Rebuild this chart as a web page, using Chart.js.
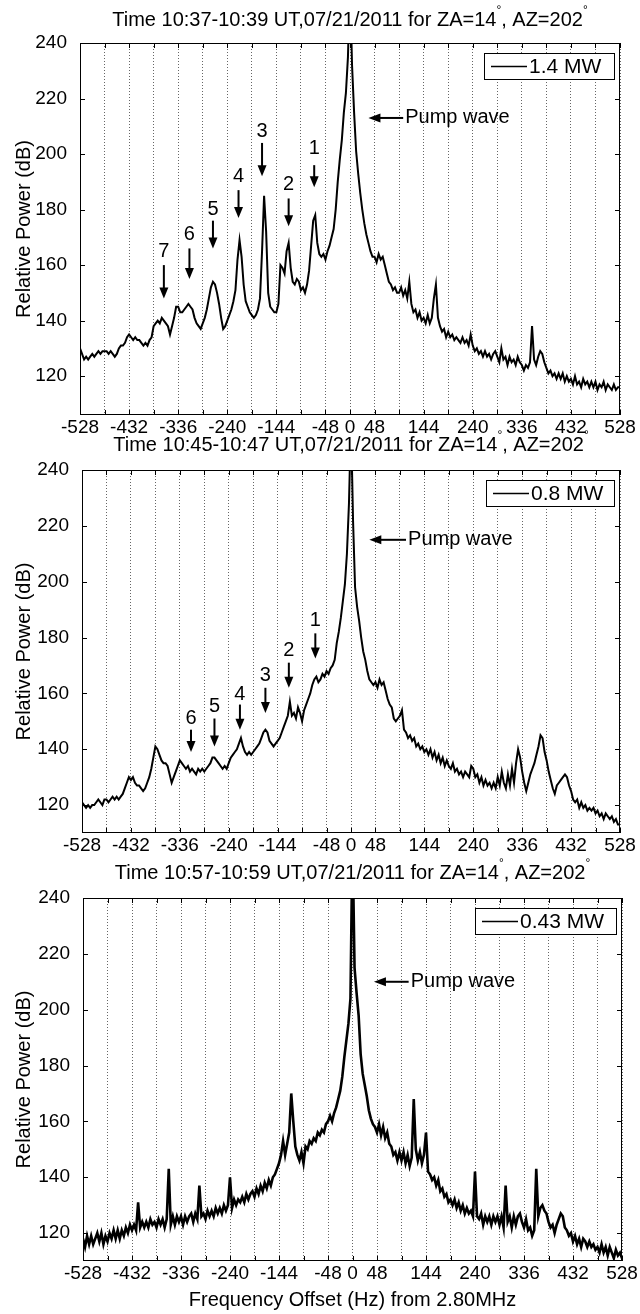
<!DOCTYPE html>
<html>
<head>
<meta charset="utf-8">
<script src="https://cdn.jsdelivr.net/npm/chart.js@4.4.0/dist/chart.umd.min.js"></script>
<style>
  body { margin: 0; background: #fff; }
  #wrap { position: relative; width: 640px; height: 1314px; overflow: hidden; }
  canvas { position: absolute; left: 0; }
</style>
</head>
<body>
<div id="wrap">
  <canvas id="c1"></canvas>
  <canvas id="c2"></canvas>
  <canvas id="c3"></canvas>
</div>
<script>
// spectrum sampled every 4 Hz from -528 Hz to +528 Hz (offset from 2.80 MHz)
const fStart = -528, fStep = 4;
const xGridTicks = [-528,-480,-432,-384,-336,-288,-240,-192,-144,-96,-48,0,48,96,144,192,240,288,336,384,432,480,528];
const xTickLabels = [-528,-432,-336,-240,-144,-48,0,48,144,240,336,432,528];
const yTicks = [120,140,160,180,200,220,240];

// 1.4 MW, 10:37-10:39 UT
const power14 = [
  130,128,126,127,126,127,128,127,128,129,128,129,
  129,129,128,129,128,127,128,130,131,131,132,134,
  135,134,133,134,133,133,132,131,132,131,133,134,
  138,139,140,139,141,140,139,138,135,138,141,145,
  145,143,143,144,145,146,145,144,141,139,138,137,
  139,141,144,148,152,154,153,150,146,141,137,138,
  140,142,144,147,151,162,169,163,153,147,145,143,
  142,141,142,144,148,165,185,172,150,145,144,143,
  143,146,160,159,157,165,168,159,154,153,155,154,
  151,152,150,153,158,167,176,178,168,164,163,164,
  162,165,167,170,173,180,190,198,205,215,222,235,
  262,232,215,201,193,186,180,175,171,168,165,163,
  163,161,164,162,163,160,157,154,153,151,152,150,
  150,152,149,151,148,154,146,143,144,141,143,140,
  141,139,142,139,141,148,153,141,138,136,137,134,
  136,134,135,133,134,133,132,134,132,133,131,135,
  131,129,130,128,129,127,129,127,128,126,128,129,
  127,125,130,126,127,124,127,125,126,124,127,125,
  124,122,124,123,125,138,126,124,127,129,128,125,
  123,121,122,120,121,119,121,119,121,118,120,118,
  119,117,120,117,118,116,119,117,118,116,118,116,
  118,115,117,116,118,115,117,116,115,117,115,116,
  116
];

// 0.8 MW, 10:45-10:47 UT
const power08 = [
  121,120,119,120,119,120,120,121,122,121,120,122,
  122,121,122,123,122,123,122,123,124,126,128,130,
  129,130,128,127,127,126,125,126,128,130,133,137,
  141,140,138,136,135,135,134,131,128,130,132,134,
  136,135,134,133,134,132,133,132,131,133,132,133,
  132,133,134,135,137,137,136,135,134,133,134,133,
  135,137,138,139,140,142,144,141,139,138,139,138,
  139,140,141,142,144,146,147,146,143,142,141,142,
  143,144,146,148,150,152,157,152,153,151,155,153,
  150,154,156,158,160,163,165,166,164,165,167,166,
  168,167,169,170,172,178,182,187,193,199,210,228,
  258,222,198,191,186,180,175,172,168,165,164,163,
  164,162,165,163,164,161,158,156,155,151,150,151,
  152,154,147,146,144,145,143,144,141,142,140,141,
  139,140,138,140,137,139,136,138,135,137,134,136,
  134,133,135,132,133,131,132,130,132,131,130,134,
  133,130,131,128,130,127,129,127,128,126,128,126,
  130,127,132,128,126,131,127,133,128,135,140,137,
  132,128,125,128,131,133,135,138,141,145,144,139,
  136,132,129,126,124,127,128,129,130,131,130,127,
  125,122,121,122,119,121,119,120,118,119,118,119,
  117,118,116,117,115,117,116,115,116,114,115,113,
  113
];

// 0.43 MW, 10:57-10:59 UT
const power043 = [
  118,115,119,116,119,116,118,120,117,120,116,119,
  117,120,118,121,118,121,118,121,119,122,120,123,
  121,123,121,131,122,124,122,124,122,125,123,124,
  122,125,123,125,122,125,143,123,126,123,126,124,
  126,123,126,124,126,127,124,127,125,137,126,127,
  125,128,126,128,126,129,127,129,127,130,128,130,
  140,129,132,130,132,131,133,131,134,132,134,135,
  133,136,134,137,135,138,136,139,137,140,141,143,
  145,148,153,148,152,156,170,160,151,148,146,149,
  145,151,150,153,152,154,153,156,155,157,156,159,
  160,162,160,163,165,168,171,176,183,189,195,204,
  262,215,206,198,184,177,173,169,164,161,159,158,
  156,159,155,158,154,156,152,151,148,149,146,149,
  146,149,145,148,144,147,168,150,146,149,145,148,
  156,142,141,139,140,137,139,135,136,133,134,131,
  132,130,132,129,131,128,130,127,129,127,128,126,
  142,126,125,127,123,126,124,126,123,126,124,126,
  123,126,122,137,124,126,122,126,123,126,127,124,
  122,125,121,122,119,121,143,126,129,130,128,127,
  124,122,123,120,123,125,127,126,122,121,119,120,
  117,119,116,118,115,118,117,115,117,115,116,114,
  115,113,116,113,115,112,115,113,111,114,112,113,
  111
];

const freqs = power14.map((_, i) => fStart + i * fStep);

// numbered sideband arrows: [label, freq, text dB, tail dB, head dB]
const arrows14 = [['1',-70,202,196,188],['2',-120,189,184,174],['3',-172,208,204,192],
  ['4',-218,192,187,177],['5',-268,180,176,166],['6',-314,171,166,155],['7',-364,165,160,148]];
const arrows08 = [['1',-70,186,181.5,172.5],['2',-122,175.5,171,162],['3',-168,166.5,162,153],
  ['4',-218,159.5,156,147],['5',-268,155.3,151,141],['6',-314,151,147,139]];

const FONT = '"Liberation Sans", Arial, Helvetica, sans-serif';
Chart.defaults.font.family = FONT;
Chart.defaults.color = '#000';

const panels = [
  { id: 'c1', canvasTop: 0, height: 460, left: 80, right: 620, top: 43, bottom: 415, yMin: 106,
    values: power14, label: '1.4 MW', legendLeft: 484, lineWidth: 2, titleY: 20,
    title: 'Time 10:37-10:39 UT,07/21/2011 for ZA=14°, AZ=202°',
    arrows: arrows14, pump: { y: 213, head: 36, tail: 104, text: 108 } },
  { id: 'c2', canvasTop: 427, height: 451, left: 82, right: 620, top: 43, bottom: 406, yMin: 110,
    values: power08, label: '0.8 MW', legendLeft: 486, lineWidth: 2, titleY: 18,
    title: 'Time 10:45-10:47 UT,07/21/2011 for ZA=14°, AZ=202°',
    arrows: arrows08, pump: { y: 215, head: 36, tail: 108, text: 112 } },
  { id: 'c3', canvasTop: 855, height: 459, left: 83, right: 622, top: 43, bottom: 406, yMin: 110,
    values: power043, label: '0.43 MW', legendLeft: 475, lineWidth: 2.6, titleY: 18,
    title: 'Time 10:57-10:59 UT,07/21/2011 for ZA=14°, AZ=202°',
    arrows: [], pump: { y: 210, head: 42, tail: 110, text: 114 },
    xlabel: 'Frequency Offset (Hz) from 2.80MHz' }
];

function drawTitle(ctx, text, cx, cy) {
  const big = '20px ' + FONT, small = '12px ' + FONT;
  const parts = text.split('°');
  let w = 0;
  parts.forEach((s, i) => {
    ctx.font = big; w += ctx.measureText(s).width;
    if (i < parts.length - 1) { ctx.font = small; w += ctx.measureText('°').width; }
  });
  let x = cx - w / 2;
  ctx.textAlign = 'left'; ctx.textBaseline = 'middle';
  parts.forEach((s, i) => {
    ctx.font = big; ctx.fillText(s, x, cy); x += ctx.measureText(s).width;
    if (i < parts.length - 1) {
      ctx.font = small; ctx.fillText('°', x, cy - 9); x += ctx.measureText('°').width;
    }
  });
}

function arrowDown(ctx, x, y0, y1) {
  const hl = 11, hw = 4.5;
  ctx.lineWidth = 2;
  ctx.beginPath(); ctx.moveTo(x, y0); ctx.lineTo(x, y1 - hl + 1); ctx.stroke();
  ctx.beginPath(); ctx.moveTo(x - hw, y1 - hl); ctx.lineTo(x + hw, y1 - hl); ctx.lineTo(x, y1); ctx.closePath(); ctx.fill();
}

function arrowLeft(ctx, x1, x0, y) {
  const hl = 12, hw = 4.5;
  ctx.lineWidth = 2;
  ctx.beginPath(); ctx.moveTo(x0, y); ctx.lineTo(x1 + hl - 1, y); ctx.stroke();
  ctx.beginPath(); ctx.moveTo(x1, y); ctx.lineTo(x1 + hl, y - hw); ctx.lineTo(x1 + hl, y + hw); ctx.closePath(); ctx.fill();
}

function decor(p) {
  return {
    id: 'decor_' + p.id,
    afterDraw(chart) {
      const { ctx, chartArea: a, scales: { x, y } } = chart;
      ctx.save();
      ctx.strokeStyle = '#000'; ctx.fillStyle = '#000'; ctx.lineWidth = 1;
      // axes box + inward ticks
      ctx.strokeRect(a.left + 0.5, a.top + 0.5, a.right - a.left - 1, a.bottom - a.top - 1);
      ctx.beginPath();
      xGridTicks.forEach(v => {
        const px = Math.round(x.getPixelForValue(v)) + 0.5;
        ctx.moveTo(px, a.bottom); ctx.lineTo(px, a.bottom - 5);
        ctx.moveTo(px, a.top); ctx.lineTo(px, a.top + 5);
      });
      yTicks.forEach(v => {
        const py = Math.round(y.getPixelForValue(v)) + 0.5;
        ctx.moveTo(a.left, py); ctx.lineTo(a.left + 5, py);
        ctx.moveTo(a.right, py); ctx.lineTo(a.right - 5, py);
      });
      ctx.stroke();

      // sideband arrows
      ctx.font = '20px ' + FONT; ctx.textAlign = 'center'; ctx.textBaseline = 'middle';
      p.arrows.forEach(([t, f, ty, y0, y1]) => {
        const px = x.getPixelForValue(f);
        ctx.fillText(t, px, y.getPixelForValue(ty));
        arrowDown(ctx, px, y.getPixelForValue(y0), y.getPixelForValue(y1));
      });

      // pump wave label
      const py = y.getPixelForValue(p.pump.y);
      arrowLeft(ctx, x.getPixelForValue(p.pump.head), x.getPixelForValue(p.pump.tail), py);
      ctx.textAlign = 'left';
      ctx.fillText('Pump wave', x.getPixelForValue(p.pump.text), py);

      // legend
      const bx = p.legendLeft, by = a.top + 10, bw = a.right - 6 - p.legendLeft, bh = 26;
      ctx.fillStyle = '#fff'; ctx.fillRect(bx, by, bw, bh);
      ctx.fillStyle = '#000'; ctx.lineWidth = 1;
      ctx.strokeRect(bx + 0.5, by + 0.5, bw, bh);
      ctx.lineWidth = 1.6;
      ctx.beginPath(); ctx.moveTo(bx + 7, by + bh / 2 + 0.5); ctx.lineTo(bx + 43, by + bh / 2 + 0.5); ctx.stroke();
      ctx.font = '21px ' + FONT; ctx.textBaseline = 'middle';
      ctx.fillText(chart.data.datasets[0].label, bx + 45, by + bh / 2 + 1);

      // titles
      drawTitle(ctx, p.title, (a.left + a.right) / 2, p.titleY);
      ctx.save();
      ctx.translate(24, (a.top + a.bottom) / 2); ctx.rotate(-Math.PI / 2);
      ctx.font = '20px ' + FONT; ctx.textAlign = 'center'; ctx.textBaseline = 'middle';
      ctx.fillText('Relative Power (dB)', 0, 0);
      ctx.restore();
      if (p.xlabel) {
        ctx.font = '20px ' + FONT; ctx.textAlign = 'center'; ctx.textBaseline = 'middle';
        ctx.fillText(p.xlabel, (a.left + a.right) / 2, p.height - 14);
      }
      ctx.restore();
    }
  };
}

panels.forEach(p => {
  const cv = document.getElementById(p.id);
  cv.width = 640; cv.height = p.height;
  cv.style.top = p.canvasTop + 'px';
  new Chart(cv, {
    type: 'line',
    data: {
      datasets: [{
        label: p.label,
        data: freqs.map((f, i) => ({ x: f, y: p.values[i] })),
        borderColor: '#000',
        borderWidth: p.lineWidth,
        pointRadius: 0,
        tension: 0,
        fill: false
      }]
    },
    options: {
      responsive: false,
      animation: false,
      devicePixelRatio: 1,
      layout: { padding: { top: p.top, right: 640 - p.right, left: 0, bottom: 0 } },
      plugins: { legend: { display: false }, tooltip: { enabled: false }, title: { display: false } },
      scales: {
        x: {
          type: 'linear', min: -528, max: 528,
          afterBuildTicks: s => { s.ticks = xGridTicks.map(v => ({ value: v })); },
          afterFit: s => { s.height = p.height - p.bottom; },
          ticks: {
            autoSkip: false, maxRotation: 0, minRotation: 0, padding: 1,
            font: { size: 19 },
            callback: v => xTickLabels.includes(v) ? String(v) : ''
          },
          grid: { color: 'rgba(0,0,0,0.6)', lineWidth: 1, drawTicks: false },
          border: { display: false, dash: [1, 2] }
        },
        y: {
          min: p.yMin, max: 240,
          afterBuildTicks: s => { s.ticks = yTicks.map(v => ({ value: v })); },
          afterFit: s => { s.width = p.left; },
          ticks: { padding: 5, font: { size: 19 } },
          grid: { display: false },
          border: { display: false }
        }
      }
    },
    plugins: [decor(p)]
  });
});
</script>
</body>
</html>
